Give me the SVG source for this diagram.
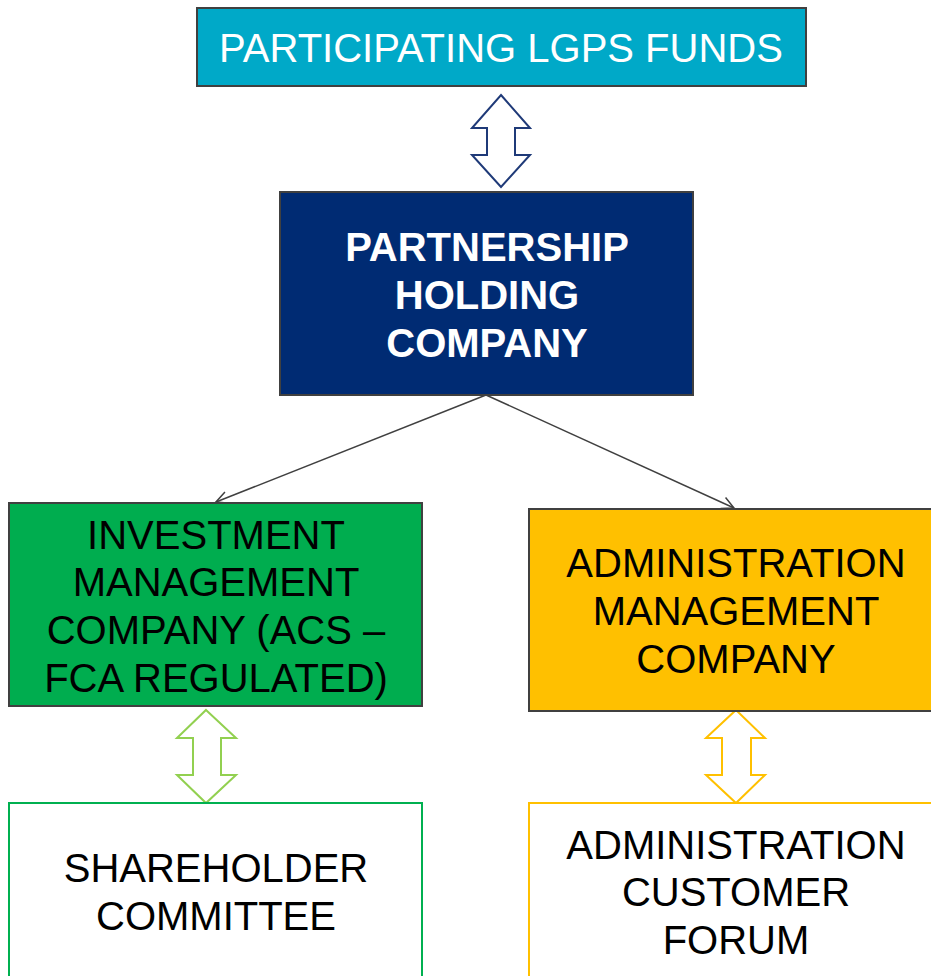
<svg xmlns="http://www.w3.org/2000/svg" width="931" height="976" viewBox="0 0 931 976">
<defs>
<style>
.t{font-family:"Liberation Sans",Arial,sans-serif;font-size:40px;text-anchor:middle}
.w{fill:#ffffff}
.b{fill:#000000}
.bold{font-weight:bold}
.box{stroke:#404040;stroke-width:2}
.conn{stroke:#404040;stroke-width:1.5;fill:none}
.dbl{fill:#ffffff;stroke-width:2;stroke-linejoin:miter}
</style>
<marker id="ah" markerWidth="16" markerHeight="16" refX="14" refY="8" orient="auto" markerUnits="userSpaceOnUse">
<path d="M2,2 L14,8 L2,14" fill="none" stroke="#404040" stroke-width="1.5"/>
</marker>
</defs>
<rect width="931" height="976" fill="#ffffff"/>
<g id="connectors">
<line class="conn" x1="486" y1="395" x2="216" y2="502" marker-end="url(#ah)"/>
<line class="conn" x1="486" y1="395" x2="734" y2="508" marker-end="url(#ah)"/>
<path class="dbl" stroke="#1f3a78" d="M501,95 L530,128 L515,128 L515,155 L530,155 L501,187 L472,155 L487,155 L487,128 L472,128 Z"/>
<path class="dbl" stroke="#92d050" d="M206,710 L236,738 L221,738 L221,775 L236,775 L206,803 L177,775 L193,775 L193,738 L177,738 Z"/>
<path class="dbl" stroke="#ffc000" d="M736,710 L765,738 L751,738 L751,775 L765,775 L736,803 L706,775 L722,775 L722,738 L706,738 Z"/>
</g>
<g id="funds">
<rect class="box" x="197" y="8" width="609" height="78" fill="#00a9c8"/>
<text class="t w" x="501" y="62">PARTICIPATING LGPS FUNDS</text>
</g>
<g id="holding">
<rect class="box" x="280" y="192" width="413" height="203" fill="#002b73"/>
<text class="t w bold" x="487" y="261">PARTNERSHIP</text>
<text class="t w bold" x="487" y="309">HOLDING</text>
<text class="t w bold" x="487" y="357">COMPANY</text>
</g>
<g id="investment">
<rect class="box" x="9" y="503" width="413" height="203" fill="#00ad4f"/>
<text class="t b" x="216" y="549">INVESTMENT</text>
<text class="t b" x="216" y="596">MANAGEMENT</text>
<text class="t b" x="216" y="644">COMPANY (ACS –</text>
<text class="t b" x="216" y="692">FCA REGULATED)</text>
</g>
<g id="admin">
<rect class="box" x="529" y="509" width="410" height="202" fill="#ffc000"/>
<text class="t b" x="736" y="577">ADMINISTRATION</text>
<text class="t b" x="736" y="625">MANAGEMENT</text>
<text class="t b" x="736" y="673">COMPANY</text>
</g>
<g id="shareholder">
<rect x="9" y="803" width="413" height="185" fill="#ffffff" stroke="#00b050" stroke-width="2"/>
<text class="t b" x="216" y="882">SHAREHOLDER</text>
<text class="t b" x="216" y="930">COMMITTEE</text>
</g>
<g id="forum">
<rect x="529" y="803" width="410" height="185" fill="#ffffff" stroke="#ffc000" stroke-width="2"/>
<text class="t b" x="736" y="859">ADMINISTRATION</text>
<text class="t b" x="736" y="906">CUSTOMER</text>
<text class="t b" x="736" y="954">FORUM</text>
</g>
</svg>
